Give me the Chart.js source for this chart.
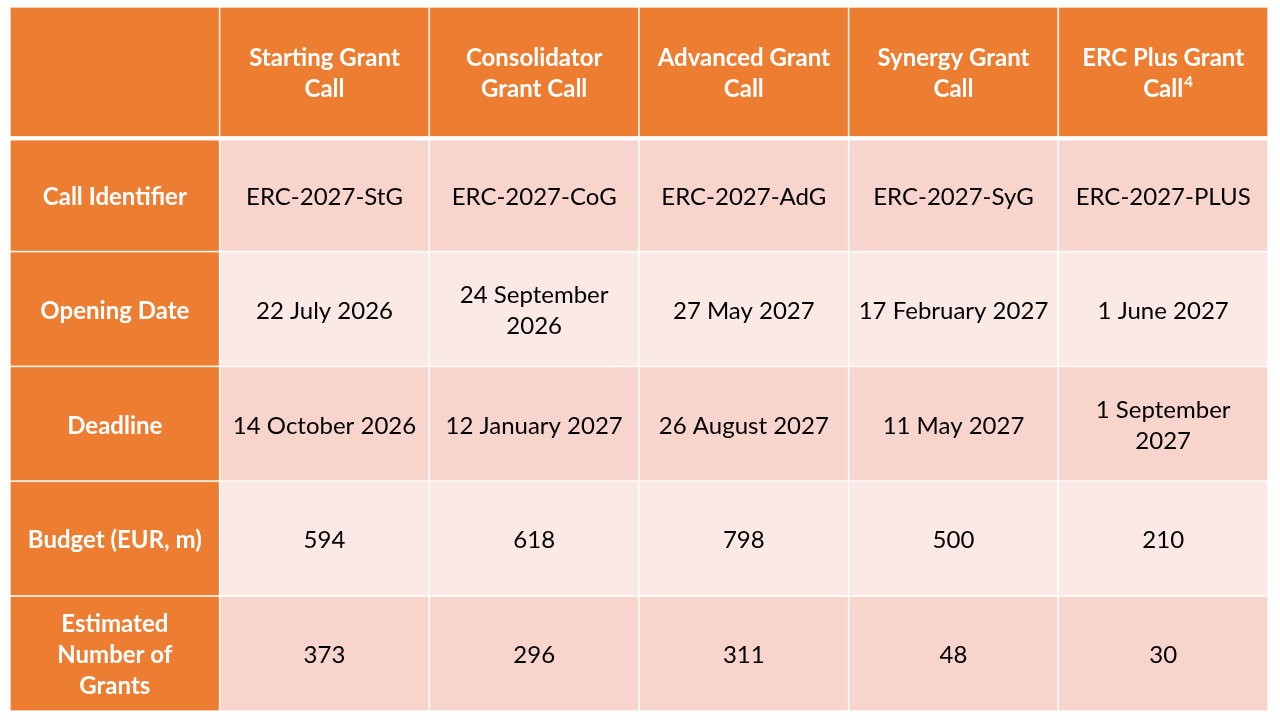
<!DOCTYPE html>
<html>
<head>
<meta charset="utf-8">
<title>ERC 2027 calls</title>
<script src="https://cdn.jsdelivr.net/npm/chart.js@4.4.1/dist/chart.umd.min.js"></script>
<style>
  html, body { margin: 0; padding: 0; background: #ffffff; }
  #table { display: block; }
</style>
</head>
<body>
<canvas id="table" width="1280" height="720"></canvas>
<script>
// table content
const columnHeaders = ['', 'Starting Grant\nCall', 'Consolidator\nGrant Call', 'Advanced Grant\nCall', 'Synergy Grant\nCall', 'ERC Plus Grant\nCall'];
const headerFootnotes = ['', '', '', '', '', '4'];
const rowLabels = ['Call Identifier', 'Opening Date', 'Deadline', 'Budget (EUR, m)', 'Estimated\nNumber of\nGrants'];

const callIdentifiers = ['ERC-2027-StG', 'ERC-2027-CoG', 'ERC-2027-AdG', 'ERC-2027-SyG', 'ERC-2027-PLUS'];
const openingDates = ['22 July 2026', '24 September\n2026', '27 May 2027', '17 February 2027', '1 June 2027'];
const deadlines = ['14 October 2026', '12 January 2027', '26 August 2027', '11 May 2027', '1 September\n2027'];
const budgets = [594, 618, 798, 500, 210];
const grantCounts = [373, 296, 311, 48, 30];

const rows = [callIdentifiers, openingDates, deadlines, budgets, grantCounts];

const ORANGE = '#ED7D31';
const PINK_DARK = '#F8D5CC';
const PINK_LIGHT = '#FBE9E5';
const FONT = 'Lato, "Open Sans", sans-serif';
const HEADER_WEIGHT = 1.13;   // header row is a bit taller than body rows
const TEXT_NUDGE = 2;         // Lato sits a little high compared with the original font

// one point per body cell, placed at the cell centre
const cellPoints = [];
rows.forEach((vals, r) => {
    vals.forEach((v, c) => {
        cellPoints.push({ x: c + 1.5, y: HEADER_WEIGHT + r + 0.5, text: String(v), row: r });
    });
});

function drawLines(ctx, text, cx, cy, lineH) {
    const lines = text.split('\n');
    const y0 = cy + TEXT_NUDGE - (lines.length - 1) * lineH / 2;
    lines.forEach((ln, i) => ctx.fillText(ln, cx, y0 + i * lineH));
    return { lines, y0 };
}

const tablePlugin = {
    id: 'tableCells',
    beforeDatasetsDraw(chart) {
        const ctx = chart.ctx;
        const xs = chart.scales.x;
        const ys = chart.scales.y;
        const lineH = 31;

        function rect(c0, c1, r0, r1, fill, gapTop) {
            const x0 = xs.getPixelForValue(c0);
            const x1 = xs.getPixelForValue(c1);
            const y0 = ys.getPixelForValue(r0);
            const y1 = ys.getPixelForValue(r1);
            ctx.fillStyle = fill;
            ctx.fillRect(x0, y0 + (gapTop || 0), x1 - x0, y1 - y0 - (gapTop || 0));
            ctx.strokeStyle = 'rgba(255,255,255,0.85)';
            ctx.lineWidth = 1.5;
            ctx.strokeRect(x0, y0 + (gapTop || 0), x1 - x0, y1 - y0 - (gapTop || 0));
        }

        ctx.save();
        ctx.textAlign = 'center';
        ctx.textBaseline = 'middle';

        // header row
        columnHeaders.forEach((h, c) => {
            rect(c, c + 1, 0, HEADER_WEIGHT, ORANGE, 0);
            ctx.fillStyle = '#ffffff';
            ctx.font = 'bold 24px ' + FONT;
            const cx = xs.getPixelForValue(c + 0.5);
            const cy = ys.getPixelForValue(HEADER_WEIGHT / 2);
            const { lines, y0 } = drawLines(ctx, h, cx, cy, lineH);
            if (headerFootnotes[c]) {
                const last = lines[lines.length - 1];
                const w = ctx.measureText(last).width;
                ctx.font = 'bold 15px ' + FONT;
                ctx.textAlign = 'left';
                ctx.fillText(headerFootnotes[c], cx + w / 2 + 1, y0 + (lines.length - 1) * lineH - 7);
                ctx.textAlign = 'center';
            }
        });

        // body rows
        rowLabels.forEach((label, r) => {
            const top = HEADER_WEIGHT + r;
            const gap = r === 0 ? 3 : 0;
            rect(0, 1, top, top + 1, ORANGE, gap);
            const fill = r % 2 === 0 ? PINK_DARK : PINK_LIGHT;
            for (let c = 1; c < columnHeaders.length; c++) {
                rect(c, c + 1, top, top + 1, fill, gap);
            }
            ctx.fillStyle = '#ffffff';
            ctx.font = 'bold 24px ' + FONT;
            drawLines(ctx, label, xs.getPixelForValue(0.5), ys.getPixelForValue(top + 0.5) + gap / 2, lineH);
        });

        // body values
        ctx.fillStyle = '#000000';
        ctx.font = '24px ' + FONT;
        const meta = chart.getDatasetMeta(0);
        meta.data.forEach((pt, i) => {
            const gap = cellPoints[i].row === 0 ? 3 : 0;
            drawLines(ctx, cellPoints[i].text, pt.x, pt.y + gap / 2, lineH);
        });

        ctx.restore();
    }
};

new Chart(document.getElementById('table'), {
    type: 'scatter',
    data: {
        datasets: [{
            data: cellPoints,
            pointRadius: 0,
            pointHoverRadius: 0
        }]
    },
    options: {
        responsive: false,
        animation: false,
        devicePixelRatio: 1,
        layout: { padding: { left: 10, right: 12, top: 7, bottom: 9 } },
        scales: {
            x: { type: 'linear', min: 0, max: columnHeaders.length, display: false },
            y: { type: 'linear', min: 0, max: HEADER_WEIGHT + rowLabels.length, reverse: true, display: false }
        },
        plugins: {
            legend: { display: false },
            tooltip: { enabled: false }
        }
    },
    plugins: [tablePlugin]
});
</script>
</body>
</html>
